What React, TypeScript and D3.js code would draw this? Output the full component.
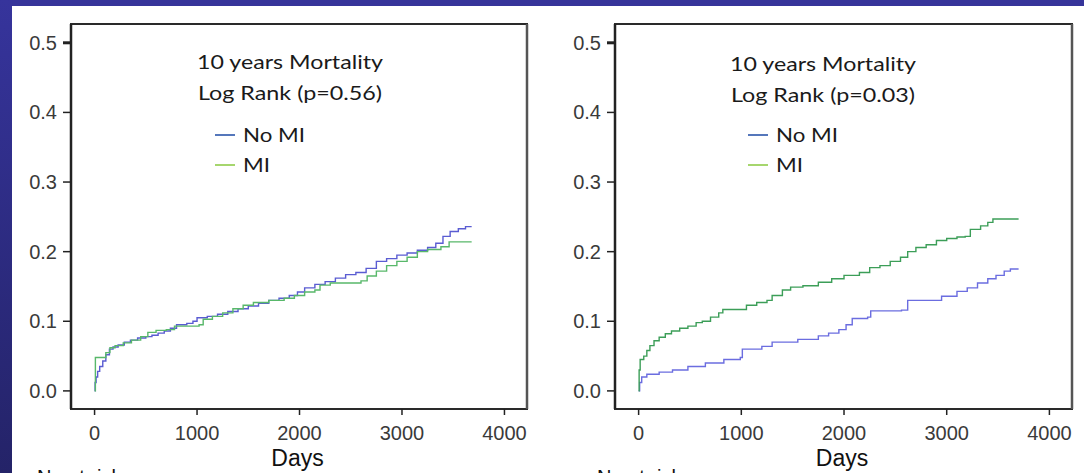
import * as d3 from "d3"

// Cumulative mortality (step curves), [days, value]
const leftNoMI: [number, number][] = [
  [0, 0], [5, 0.012], [15, 0.02], [30, 0.028], [50, 0.035], [80, 0.043], [110, 0.052], [145, 0.06],
  [180, 0.063], [230, 0.066], [290, 0.07], [350, 0.073], [420, 0.076], [500, 0.078], [560, 0.08],
  [620, 0.083], [680, 0.086], [740, 0.09], [800, 0.095], [900, 0.097], [960, 0.1], [1000, 0.105],
  [1100, 0.107], [1200, 0.11], [1300, 0.114], [1400, 0.118], [1500, 0.122], [1600, 0.126], [1700, 0.13],
  [1800, 0.133], [1900, 0.137], [1980, 0.142], [2050, 0.148], [2150, 0.153], [2250, 0.157], [2350, 0.162],
  [2450, 0.167], [2550, 0.17], [2650, 0.176], [2750, 0.186], [2850, 0.19], [2950, 0.195], [3050, 0.198],
  [3150, 0.202], [3250, 0.206], [3330, 0.212], [3400, 0.222], [3470, 0.229], [3550, 0.233], [3620, 0.236],
  [3680, 0.236],
]
const leftMI: [number, number][] = [
  [0, 0], [8, 0.048], [110, 0.055], [150, 0.062], [200, 0.065], [280, 0.069], [360, 0.073], [450, 0.078],
  [520, 0.084], [600, 0.087], [700, 0.088], [780, 0.093], [900, 0.093], [1020, 0.095], [1060, 0.103],
  [1150, 0.107], [1250, 0.112], [1350, 0.118], [1450, 0.123], [1550, 0.127], [1700, 0.13], [1850, 0.133],
  [1950, 0.137], [2050, 0.142], [2150, 0.145], [2200, 0.152], [2300, 0.155], [2500, 0.155], [2600, 0.158],
  [2660, 0.165], [2750, 0.172], [2850, 0.18], [2950, 0.186], [3050, 0.192], [3150, 0.2], [3250, 0.203],
  [3380, 0.207], [3460, 0.214], [3680, 0.214],
]
const rightNoMI: [number, number][] = [
  [0, 0], [10, 0.012], [30, 0.02], [80, 0.024], [200, 0.027], [330, 0.03], [480, 0.035], [650, 0.04],
  [830, 0.045], [990, 0.048], [1010, 0.06], [1200, 0.064], [1300, 0.07], [1550, 0.074], [1750, 0.079],
  [1850, 0.083], [1950, 0.088], [2020, 0.095], [2080, 0.104], [2230, 0.106], [2260, 0.115], [2560, 0.116],
  [2620, 0.13], [2880, 0.13], [2950, 0.136], [3100, 0.143], [3200, 0.148], [3300, 0.155], [3400, 0.161],
  [3480, 0.166], [3560, 0.172], [3620, 0.175], [3700, 0.175],
]
const rightMI: [number, number][] = [
  [0, 0], [5, 0.03], [15, 0.045], [50, 0.05], [80, 0.058], [110, 0.065], [150, 0.072], [200, 0.077],
  [260, 0.082], [320, 0.086], [400, 0.09], [480, 0.093], [560, 0.098], [620, 0.1], [700, 0.106],
  [780, 0.112], [820, 0.117], [1000, 0.117], [1050, 0.123], [1150, 0.127], [1250, 0.13], [1300, 0.137],
  [1400, 0.145], [1480, 0.149], [1600, 0.151], [1750, 0.156], [1880, 0.161], [2000, 0.166], [2150, 0.17],
  [2250, 0.177], [2350, 0.18], [2450, 0.186], [2550, 0.192], [2620, 0.2], [2700, 0.206], [2800, 0.21],
  [2900, 0.216], [3000, 0.219], [3100, 0.221], [3180, 0.222], [3230, 0.232], [3330, 0.237], [3400, 0.242],
  [3450, 0.247], [3700, 0.247],
]

const xTicks = [0, 1000, 2000, 3000, 4000]
const yTicks = [0, 0.1, 0.2, 0.3, 0.4, 0.5]
const titleLines = ["10 years Mortality"]
const pValues = ["Log Rank (p=0.56)", "Log Rank (p=0.03)"]
const groups = ["No MI", "MI"]

const W = 1084
const H = 473
const top = 24
const bottom = 409

type Panel = {
  left: number
  right: number
  noMI: [number, number][]
  mi: [number, number][]
  noMIColor: string
  miColor: string
  pval: string
  textCx: number
  legX: number
  dy: number
  riskX: number
}

const panels: Panel[] = [
  { left: 71, right: 527, noMI: leftNoMI, mi: leftMI, noMIColor: "#5a5cd2", miColor: "#58b86a", pval: pValues[0], textCx: 290, legX: 215, dy: 0, riskX: 37 },
  { left: 615, right: 1072, noMI: rightNoMI, mi: rightMI, noMIColor: "#6b6de0", miColor: "#3c9e58", pval: pValues[1], textCx: 823, legX: 748, dy: 2, riskX: 597 },
]

const tickFont = "'Liberation Sans', Arial, sans-serif"
const legFont = "Lato, 'Open Sans', sans-serif"

function PanelView({ p }: { p: Panel }) {
  const x = d3.scaleLinear().domain([-230, 4220]).range([p.left, p.right])
  const y = d3.scaleLinear().domain([-0.026, 0.527]).range([bottom, top])
  const line = d3
    .line<[number, number]>()
    .x((d) => x(d[0]))
    .y((d) => y(d[1]))
    .curve(d3.curveStepAfter)

  return (
    <g>
      <rect x={p.left} y={top} width={p.right - p.left} height={bottom - top} fill="white" stroke="#2a2a2a" strokeWidth={2} />
      <line x1={p.right} x2={p.right} y1={top} y2={bottom} stroke="#555" strokeWidth={2.5} />
      <line x1={p.left} x2={p.left} y1={top} y2={bottom} stroke="#222" strokeWidth={2.5} />

      {yTicks.map((t) => (
        <g key={t}>
          <line x1={p.left - 8} x2={p.left} y1={y(t)} y2={y(t)} stroke="#222" strokeWidth={t === 0.5 ? 3 : 1.5} />
          <text x={p.left - 14} y={y(t) + 7} textAnchor="end" fontFamily={tickFont} fontSize={20} fill="#3a3a3a">
            {t.toFixed(1)}
          </text>
        </g>
      ))}
      {xTicks.map((t) => (
        <g key={t}>
          <line x1={x(t)} x2={x(t)} y1={bottom} y2={bottom + 6} stroke="#222" strokeWidth={1.5} />
          <text x={x(t)} y={440} textAnchor="middle" fontFamily={tickFont} fontSize={20} fill="#3a3a3a">
            {t}
          </text>
        </g>
      ))}
      <text x={(x(0) + x(4000)) / 2 - 2} y={466} textAnchor="middle" fontFamily={tickFont} fontSize={23} fill="#111">
        Days
      </text>
      <text x={p.riskX} y={484} fontFamily={tickFont} fontSize={20} fill="#111">
        No at risk
      </text>

      <path d={line(p.noMI) ?? ""} fill="none" stroke={p.noMIColor} strokeWidth={1.4} />
      <path d={line(p.mi) ?? ""} fill="none" stroke={p.miColor} strokeWidth={1.4} />

      <text x={p.textCx} y={69 + p.dy} textAnchor="middle" fontFamily={legFont} fontSize={19} fill="#1a1a1a" textLength={186} lengthAdjust="spacingAndGlyphs">
        {titleLines[0]}
      </text>
      <text x={p.textCx} y={100 + p.dy} textAnchor="middle" fontFamily={legFont} fontSize={19} fill="#1a1a1a" textLength={184} lengthAdjust="spacingAndGlyphs">
        {p.pval}
      </text>
      {groups.map((g, i) => (
        <g key={g}>
          <line x1={p.legX} x2={p.legX + 20} y1={135 + i * 30} y2={135 + i * 30} stroke={i === 0 ? "#5577bb" : "#a6d66e"} strokeWidth={2} />
          <text x={p.legX + 28} y={142 + i * 30} fontFamily={legFont} fontSize={19} fill="#1a1a1a" textLength={i === 0 ? 62 : 27} lengthAdjust="spacingAndGlyphs">
            {g}
          </text>
        </g>
      ))}
    </g>
  )
}

export default function App() {
  return (
    <svg width={W} height={H} style={{ position: "fixed", left: 0, top: 0, background: "white" }}>
      <defs>
        <linearGradient id="bandGrad" x1="0" y1="0" x2="0" y2="1">
          <stop offset="0" stopColor="#36349c" />
          <stop offset="1" stopColor="#242368" />
        </linearGradient>
      </defs>
      <rect x={0} y={0} width={W} height={H} fill="white" />
      {panels.map((p, i) => (
        <PanelView key={i} p={p} />
      ))}
      <rect x={0} y={0} width={W} height={6} fill="#36349a" />
      <rect x={0} y={0} width={12} height={H} fill="url(#bandGrad)" />
    </svg>
  )
}
